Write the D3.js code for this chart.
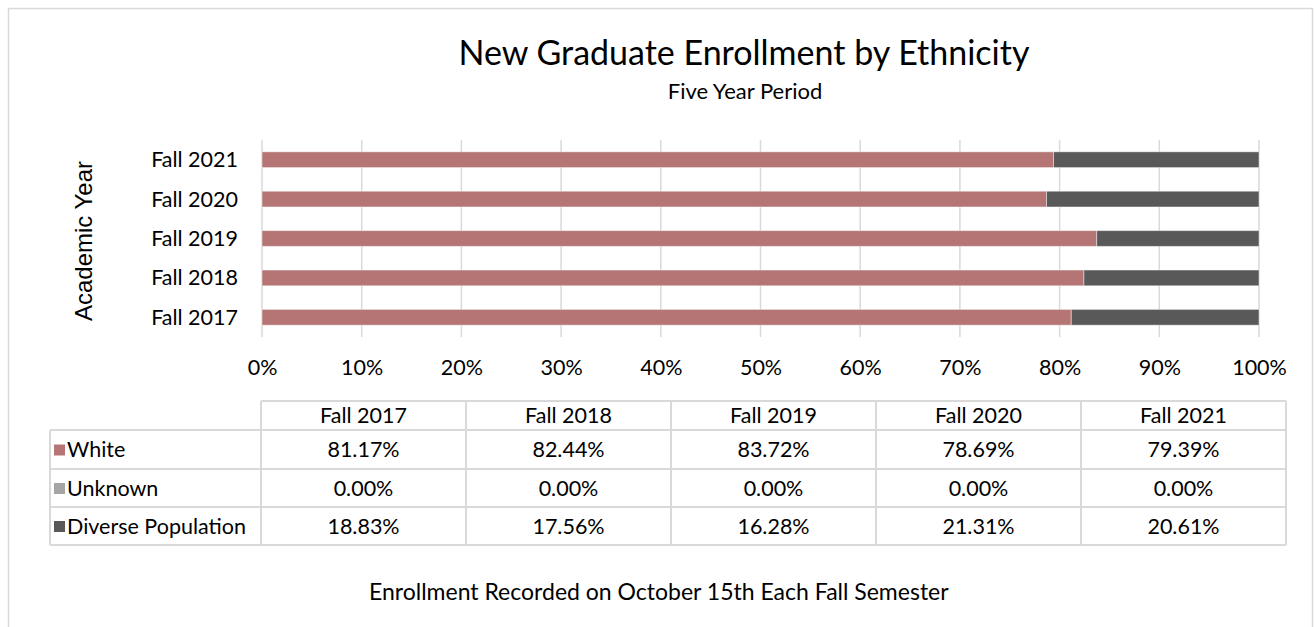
<!DOCTYPE html>
<html>
<head>
<meta charset="utf-8">
<style>
  body { margin: 0; background: #fff; font-family: "Lato", sans-serif; }
  svg text { fill: #000; }
</style>
</head>
<body>
<div id="chart"></div>
<script src="https://d3js.org/d3.v7.min.js"></script>
<script>
// data
var years = ["Fall 2017", "Fall 2018", "Fall 2019", "Fall 2020", "Fall 2021"];
var white = [81.17, 82.44, 83.72, 78.69, 79.39];
var unknown = [0.00, 0.00, 0.00, 0.00, 0.00];
var diverse = [18.83, 17.56, 16.28, 21.31, 20.61];
var seriesNames = ["White", "Unknown", "Diverse Population"];
var xTicks = [0, 10, 20, 30, 40, 50, 60, 70, 80, 90, 100];

var colors = { "White": "#b47574", "Unknown": "#a5a5a5", "Diverse Population": "#595959" };
var gridColor = "#d9d9d9";
var fs = "21.5px";

var W = 1315, H = 627;
var svg = d3.select("#chart").append("svg")
  .attr("width", W).attr("height", H);

svg.append("rect").attr("width", W).attr("height", H).attr("fill", "#fff");

// chart frame (bottom edge is outside the picture)
svg.append("rect")
  .attr("x", 8.5).attr("y", 8.5)
  .attr("width", 1304).attr("height", 700)
  .attr("fill", "none").attr("stroke", gridColor).attr("stroke-width", 1.5);

// title
svg.append("text").attr("x", 744).attr("y", 65)
  .attr("text-anchor", "middle").style("font-size", "34px")
  .text("New Graduate Enrollment by Ethnicity");
svg.append("text").attr("x", 745).attr("y", 99)
  .attr("text-anchor", "middle").style("font-size", "22px")
  .text("Five Year Period");

var plotTop = 140, plotBottom = 337;

var x = d3.scaleLinear().domain([0, 100]).range([262, 1259]);
var y = d3.scaleBand().domain(years.slice().reverse())
  .range([plotTop, plotBottom]).paddingInner(0.6).paddingOuter(0.3);

// gridlines
svg.append("g").selectAll("line").data(xTicks).enter().append("line")
  .attr("x1", function(d) { return x(d); }).attr("x2", function(d) { return x(d); })
  .attr("y1", plotTop).attr("y2", plotBottom)
  .attr("stroke", gridColor).attr("stroke-width", 1.5);

// stacked bars
var rows = years.map(function(yr, i) {
  return { year: yr, "White": white[i], "Unknown": unknown[i], "Diverse Population": diverse[i] };
});
var series = d3.stack().keys(seriesNames).offset(d3.stackOffsetExpand)(rows);

svg.append("g").selectAll("g").data(series).enter().append("g")
  .attr("fill", function(d) { return colors[d.key]; })
  .selectAll("rect").data(function(d) { return d; }).enter().append("rect")
    .attr("x", function(d) { return x(d[0] * 100); })
    .attr("width", function(d) { return x(d[1] * 100) - x(d[0] * 100); })
    .attr("y", function(d) { return y(d.data.year); })
    .attr("height", y.bandwidth())
    .attr("stroke", "rgba(255,255,255,0.45)").attr("stroke-width", 1);

// x axis labels
var xAxis = svg.append("g").attr("transform", "translate(0,375)")
  .call(d3.axisBottom(x).tickValues(xTicks).tickSize(0).tickFormat(function(d) { return d + "%"; }));
xAxis.select(".domain").remove();
xAxis.selectAll("text").attr("y", 0).attr("dy", 0)
  .style("font-family", "Lato, sans-serif").style("font-size", fs).attr("fill", "#000");

// y axis labels
var yAxis = svg.append("g").attr("transform", "translate(238,0)")
  .call(d3.axisLeft(y).tickSize(0).tickPadding(0));
yAxis.select(".domain").remove();
yAxis.selectAll("text").attr("dy", "0.35em")
  .style("font-family", "Lato, sans-serif").style("font-size", fs).attr("fill", "#000");

// y axis title
svg.append("text")
  .attr("transform", "translate(92,241) rotate(-90)")
  .attr("text-anchor", "middle")
  .style("font-family", "'Liberation Sans', Arial, sans-serif").style("font-size", "24px")
  .text("Academic Year");

// data table
var colX = d3.scaleBand().domain(years).range([261, 1286]);
var rowEdges = [401, 430, 469, 507, 545];
var tableLeft = 50;
var tbl = svg.append("g").attr("stroke", gridColor).attr("stroke-width", 2);

tbl.append("line").attr("x1", 261).attr("x2", 1286).attr("y1", rowEdges[0]).attr("y2", rowEdges[0]);
rowEdges.slice(1).forEach(function(ry) {
  tbl.append("line").attr("x1", tableLeft).attr("x2", 1286).attr("y1", ry).attr("y2", ry);
});
years.concat(["end"]).forEach(function(yr, i) {
  var cx = i < years.length ? colX(yr) : 1286;
  tbl.append("line").attr("x1", cx).attr("x2", cx).attr("y1", rowEdges[0]).attr("y2", rowEdges[4]);
});
tbl.append("line").attr("x1", tableLeft).attr("x2", tableLeft).attr("y1", rowEdges[1]).attr("y2", rowEdges[4]);

// header
svg.append("g").selectAll("text").data(years).enter().append("text")
  .attr("x", function(d) { return colX(d) + colX.bandwidth() / 2; })
  .attr("y", 423).attr("text-anchor", "middle").style("font-size", fs)
  .text(function(d) { return d; });

var tableSeries = [white, unknown, diverse];
seriesNames.forEach(function(name, r) {
  var top = rowEdges[r + 1], bot = rowEdges[r + 2];
  var mid = (top + bot) / 2;
  svg.append("rect").attr("x", tableLeft + 4).attr("y", mid - 5)
    .attr("width", 11).attr("height", 11).attr("fill", colors[name]);
  svg.append("text").attr("x", tableLeft + 17).attr("y", mid).attr("dy", "0.35em")
    .style("font-size", fs).text(name);
  svg.append("g").selectAll("text").data(tableSeries[r]).enter().append("text")
    .attr("x", function(d, i) { return colX(years[i]) + colX.bandwidth() / 2; })
    .attr("y", mid).attr("dy", "0.35em").attr("text-anchor", "middle")
    .style("font-size", fs)
    .text(function(d) { return d.toFixed(2) + "%"; });
});

// footnote
svg.append("text").attr("x", 369).attr("y", 600)
  .style("font-size", "23px")
  .text("Enrollment Recorded on October 15th Each Fall Semester");
</script>
</body>
</html>
